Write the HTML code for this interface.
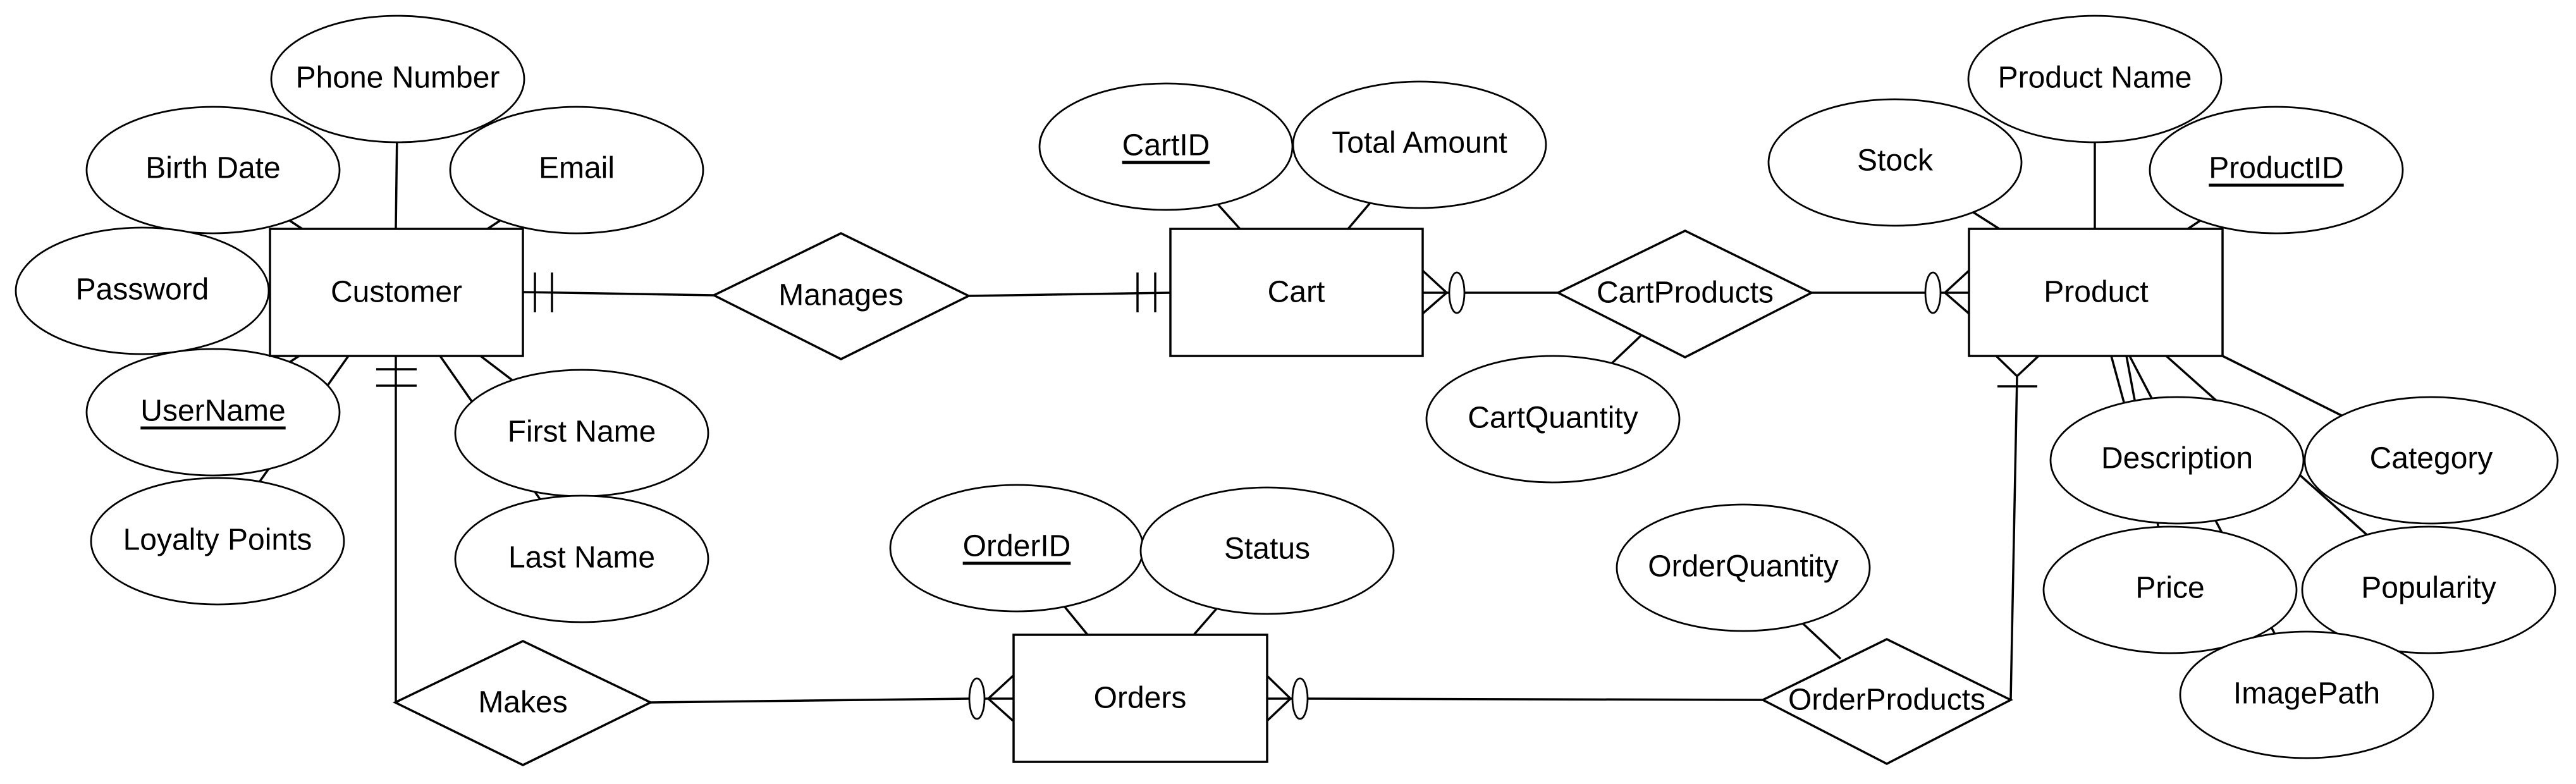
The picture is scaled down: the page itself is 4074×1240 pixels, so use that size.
<!DOCTYPE html>
<html><head><meta charset="utf-8"><style>
html,body{margin:0;padding:0;background:#fff;}
svg{display:block;}
text{font-family:"Liberation Sans",Arial,sans-serif;font-size:48px;fill:#000;text-anchor:middle;dominant-baseline:central;}
</style></head><body>
<svg width="4074" height="1240" viewBox="0 0 4074 1240" xmlns="http://www.w3.org/2000/svg">
<g stroke="#000" stroke-width="3.5" fill="none">
<line x1="626" y1="362" x2="629" y2="125"/>
<line x1="478" y1="362" x2="337" y2="269"/>
<line x1="771" y1="362" x2="912" y2="269"/>
<line x1="473" y1="563" x2="337" y2="652"/>
<line x1="551" y1="563" x2="344" y2="856"/>
<line x1="760" y1="563" x2="920" y2="685"/>
<line x1="696" y1="563" x2="920" y2="884"/>
<line x1="1961" y1="362" x2="1844" y2="232"/>
<line x1="2132" y1="362" x2="2245" y2="229"/>
<line x1="1720" y1="1004" x2="1608" y2="867"/>
<line x1="1888" y1="1004" x2="2004" y2="871"/>
<line x1="2595" y1="531" x2="2456" y2="663"/>
<line x1="2911" y1="1042" x2="2757" y2="898"/>
<line x1="3162" y1="362" x2="2997" y2="257"/>
<line x1="3313" y1="362" x2="3313" y2="125"/>
<line x1="3460" y1="362" x2="3600" y2="269"/>
<line x1="3339" y1="563" x2="3384" y2="728"/>
<line x1="3363" y1="563" x2="3432" y2="933"/>
<line x1="3368" y1="563" x2="3648" y2="1099"/>
<line x1="3426" y1="563" x2="3841" y2="933"/>
<line x1="3515" y1="563" x2="3845" y2="728"/>
<line x1="827" y1="462" x2="1129" y2="467"/>
<line x1="846" y1="431" x2="846" y2="494"/>
<line x1="873" y1="431" x2="873" y2="494"/>
<line x1="1532" y1="468" x2="1851" y2="463"/>
<line x1="1799" y1="431" x2="1799" y2="494"/>
<line x1="1827" y1="431" x2="1827" y2="494"/>
<line x1="626" y1="563" x2="626" y2="1111"/>
<line x1="595" y1="584" x2="659" y2="584"/>
<line x1="595" y1="610" x2="659" y2="610"/>
<line x1="1029" y1="1111" x2="1533" y2="1105"/>
<polyline points="1602,1069 1563,1105 1602,1140"/>
<line x1="1557" y1="1105" x2="1602" y2="1105"/>
<polyline points="2004,1069 2041,1105 2004,1140"/>
<line x1="2004" y1="1105" x2="2044" y2="1105"/>
<line x1="2068" y1="1105" x2="2788" y2="1107"/>
<polyline points="2250,428 2288,463 2250,496"/>
<line x1="2250" y1="463" x2="2292" y2="463"/>
<line x1="2316" y1="463" x2="2464" y2="463"/>
<line x1="2865" y1="463" x2="3045" y2="463"/>
<polyline points="3114,428 3076,463 3114,496"/>
<line x1="3069" y1="463" x2="3114" y2="463"/>
<polyline points="3157,563 3190,595 3224,563"/>
<line x1="3159" y1="611" x2="3222" y2="611"/>
<line x1="3190" y1="595" x2="3180" y2="1107"/>
</g>
<g stroke="#000" stroke-width="2.8" fill="#fff">
<ellipse cx="1545" cy="1105" rx="12" ry="32"/>
<ellipse cx="2056" cy="1105" rx="12" ry="32"/>
<ellipse cx="2304" cy="463" rx="12" ry="32"/>
<ellipse cx="3057" cy="463" rx="12" ry="32"/>
<ellipse cx="337" cy="269" rx="200" ry="100"/>
<ellipse cx="629" cy="125" rx="200" ry="100"/>
<ellipse cx="912" cy="269" rx="200" ry="100"/>
<ellipse cx="225" cy="460" rx="200" ry="100"/>
<ellipse cx="337" cy="652" rx="200" ry="100"/>
<ellipse cx="344" cy="856" rx="200" ry="100"/>
<ellipse cx="920" cy="685" rx="200" ry="100"/>
<ellipse cx="920" cy="884" rx="200" ry="100"/>
<ellipse cx="1844" cy="232" rx="200" ry="100"/>
<ellipse cx="2245" cy="229" rx="200" ry="100"/>
<ellipse cx="2456" cy="663" rx="200" ry="100"/>
<ellipse cx="1608" cy="867" rx="200" ry="100"/>
<ellipse cx="2004" cy="871" rx="200" ry="100"/>
<ellipse cx="2757" cy="898" rx="200" ry="100"/>
<ellipse cx="2997" cy="257" rx="200" ry="100"/>
<ellipse cx="3313" cy="125" rx="200" ry="100"/>
<ellipse cx="3600" cy="269" rx="200" ry="100"/>
<ellipse cx="3432" cy="933" rx="200" ry="100"/>
<ellipse cx="3841" cy="933" rx="200" ry="100"/>
<ellipse cx="3648" cy="1099" rx="200" ry="100"/>
<ellipse cx="3443" cy="728" rx="200" ry="100"/>
<ellipse cx="3845" cy="728" rx="200" ry="100"/>
</g>
<g stroke="#000" stroke-width="3.5" fill="#fff">
<rect x="427" y="362" width="400" height="201"/>
<rect x="1851" y="362" width="399" height="201"/>
<rect x="1603" y="1004" width="401" height="201"/>
<rect x="3114" y="362" width="401" height="201"/>
<polygon points="1129,467 1330,369 1532,468 1330,568"/>
<polygon points="625,1111 827,1014 1029,1111 827,1210"/>
<polygon points="2464,463 2665,365 2865,463 2665,565"/>
<polygon points="2788,1107 2984,1011 3180,1107 2984,1208"/>
</g>
<g>
<text x="627" y="462">Customer</text>
<text x="2050" y="462">Cart</text>
<text x="1803" y="1104">Orders</text>
<text x="3315" y="462">Product</text>
<text x="1330" y="467">Manages</text>
<text x="827" y="1111">Makes</text>
<text x="2665" y="463">CartProducts</text>
<text x="2984" y="1107">OrderProducts</text>
<text x="629" y="123">Phone Number</text>
<text x="337" y="266">Birth Date</text>
<text x="912" y="266">Email</text>
<text x="225" y="458">Password</text>
<text x="337" y="650" text-decoration="underline">UserName</text>
<text x="344" y="854">Loyalty Points</text>
<text x="920" y="683">First Name</text>
<text x="920" y="882">Last Name</text>
<text x="1844" y="230" text-decoration="underline">CartID</text>
<text x="2245" y="226">Total Amount</text>
<text x="2456" y="661">CartQuantity</text>
<text x="1608" y="864" text-decoration="underline">OrderID</text>
<text x="2004" y="868">Status</text>
<text x="2757" y="896">OrderQuantity</text>
<text x="2997" y="254">Stock</text>
<text x="3313" y="123">Product Name</text>
<text x="3600" y="266" text-decoration="underline">ProductID</text>
<text x="3443" y="725">Description</text>
<text x="3845" y="725">Category</text>
<text x="3432" y="930">Price</text>
<text x="3841" y="930">Popularity</text>
<text x="3648" y="1097">ImagePath</text>
</g>
</svg>
</body></html>
